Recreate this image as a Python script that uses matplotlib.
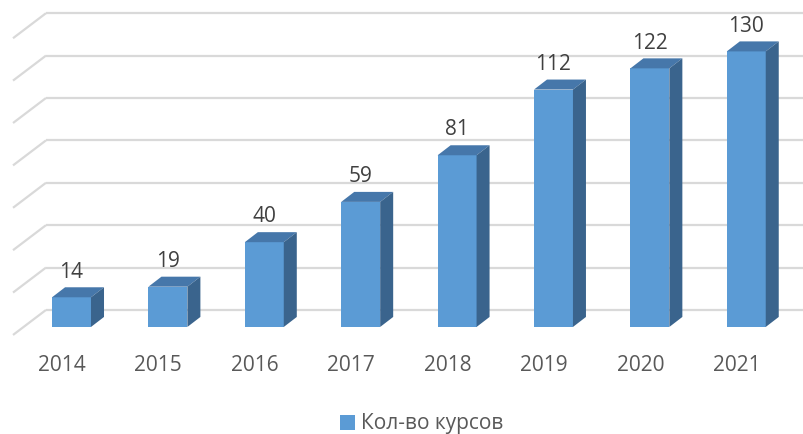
import matplotlib.pyplot as plt
from matplotlib.patches import Patch

# данные
years = ['2014', '2015', '2016', '2017', '2018', '2019', '2020', '2021']
courses = [14, 19, 40, 59, 81, 112, 122, 130]
grid_values = [0, 20, 40, 60, 80, 100, 120, 140]
legend_label = 'Кол-во курсов'

# цвета
front_color = '#5B9BD5'
top_color = '#4677AA'
side_color = '#3A648D'
grid_color = '#D9D9D9'

plt.rcParams['font.family'] = ['Open Sans', 'DejaVu Sans']

fig = plt.figure(figsize=(8.04, 4.34), dpi=100)
ax = fig.add_axes([0, 0, 1, 1])
ax.set_xlim(-0.742, 7.599)
ax.set_ylim(-50.5, 154.25)
ax.axis('off')

# параметры псевдо-3D
half_w = 0.202
depth_x = 0.135
depth_y = 4.72
wall_y = 8.02
wall_x = -0.265
diag_x = -0.607
diag_y = -11.8

# сетка на задней стенке + боковые диагонали
for g in grid_values:
    yb = g + wall_y
    ax.plot([wall_x, 7.599], [yb, yb], color=grid_color, lw=1.6, zorder=1,
            solid_capstyle='butt')
    ax.plot([diag_x, wall_x], [yb + diag_y, yb], color=grid_color, lw=1.6,
            zorder=1, solid_capstyle='butt')

# столбцы
for i, v in enumerate(courses):
    l, r = i - half_w, i + half_w
    ax.fill([l, r, r, l], [0, 0, v, v], color=front_color, zorder=3, lw=0)
    ax.fill([l, r, r + depth_x, l + depth_x], [v, v, v + depth_y, v + depth_y],
            color=top_color, zorder=3, lw=0)
    ax.fill([r, r + depth_x, r + depth_x, r], [0, depth_y, v + depth_y, v],
            color=side_color, zorder=3, lw=0)
    ax.text(i, v + depth_y + 7.2, str(v), ha='center', va='center',
            fontsize=15, color='#404040', zorder=4)
    ax.text(i - 0.099, -18.4, years[i], ha='center', va='center',
            fontsize=15, color='#595959')

handles = [Patch(facecolor=front_color, edgecolor='none')]
fig.legend(handles, [legend_label], loc='center',
           bbox_to_anchor=(422 / 804, 1 - 424 / 434), frameon=False,
           fontsize=15, handlelength=0.7, handleheight=0.7,
           handletextpad=0.3, labelcolor='#595959')

fig.savefig('out.png', dpi=100)
